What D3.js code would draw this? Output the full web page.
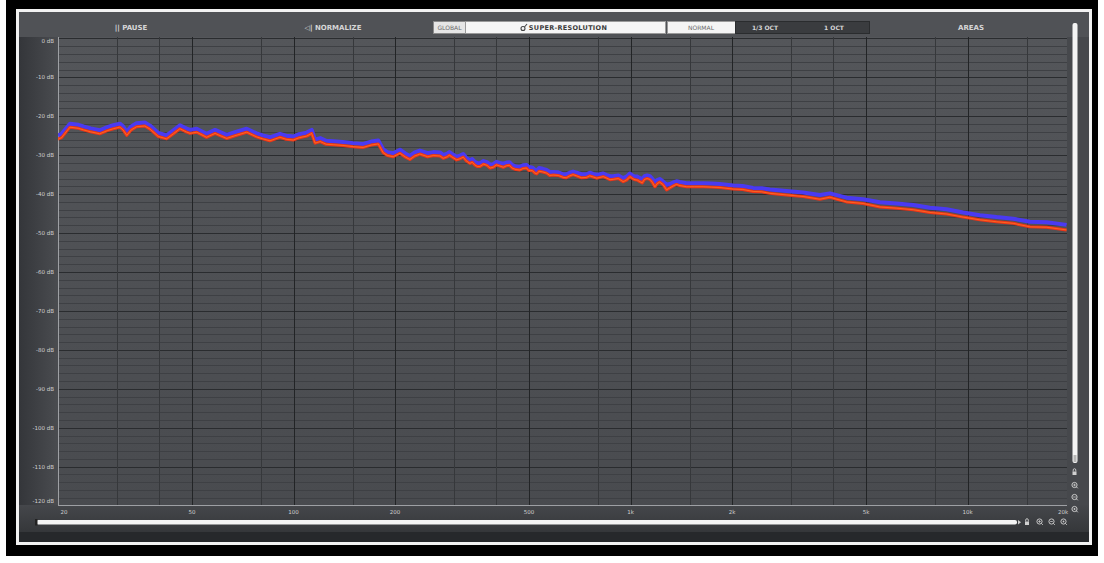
<!DOCTYPE html>
<html><head><meta charset="utf-8">
<script src="https://cdn.jsdelivr.net/npm/d3@7"></script>
<style>
html,body{margin:0;padding:0;background:#ffffff;}
svg{display:block;}
text{font-family:"DejaVu Sans",sans-serif;}
</style></head>
<body>
<svg id="chart" width="1104" height="563"></svg>
<script>
const freqs = [20,20.5,21.7,23,23.8,25,26.6,28,29.2,30.5,
31.2,32,33,34.2,36.2,37.5,39.7,42,44,46,
48,49.3,51.6,53.5,55.2,58.5,61,63.3,67,72.6,
77.7,81,85.1,91.1,95,99.8,104,109.4,113.2,115.8,
120,125,131.2,140,150.4,161,170,178.4,184.6,190,
197.6,206.9,215,221.4,229,237.1,250,260,271.9,278,
286,294.5,304.7,318.8,325,333.7,345,357.3,375,391.3,
410,428.8,445,469.5,491.5,505,520.3,535,563.5,590,
631.2,660,691.7,740.6,775,811,850,888,951,995.6,
1030,1066,1100,1141,1181,1220,1279,1338,1400,1467,
1550,1642,1740,1841,2016,2150,2311,2450,2591,2750,
2903,3252,3645,3903,4375,4900,5494,6157,6902,7734,
8667,9708,10880,12196,13659,15311,17160,19676];
const redDb = [-25.9,-25.5,-22.8,-23.1,-23.5,-24.0,-24.5,-23.7,-23.2,-22.8,
-23.5,-24.9,-23.5,-22.7,-22.5,-23.3,-25.2,-25.8,-24.5,-23.2,
-24.0,-24.4,-24.1,-24.8,-25.4,-24.4,-25.1,-25.7,-25.0,-24.1,
-25.3,-25.8,-26.3,-25.4,-25.9,-26.1,-25.5,-25.1,-24.4,-26.9,
-26.5,-27.2,-27.3,-27.5,-27.8,-28.0,-27.4,-27.1,-29.4,-30.1,
-30.4,-29.5,-30.5,-31.1,-30.2,-29.7,-30.4,-30.1,-30.2,-30.8,
-30.4,-30.4,-31.2,-30.5,-31.4,-32.1,-32.5,-32.9,-32.6,-33.1,
-32.8,-32.7,-33.3,-33.8,-33.3,-33.9,-34.6,-34.1,-34.6,-35.1,
-35.7,-35.3,-35.3,-35.7,-35.6,-35.7,-35.9,-36.2,-36.8,-35.5,
-36.3,-36.8,-36.2,-36.2,-38.1,-36.9,-38.9,-37.9,-37.8,-38.1,
-38.1,-38.1,-38.2,-38.3,-38.7,-38.8,-39.3,-39.4,-39.8,-40.0,
-40.2,-40.6,-41.3,-40.8,-42.0,-42.4,-43.3,-43.6,-44.0,-44.7,
-45.1,-45.9,-46.6,-47.1,-47.5,-48.4,-48.5,-49.2];
const blueDb = [-24.9,-24.5,-21.9,-22.2,-22.6,-23.1,-23.6,-22.8,-22.3,-21.9,
-22.6,-24.0,-22.6,-21.8,-21.6,-22.4,-24.3,-24.9,-23.6,-22.3,
-23.1,-23.5,-23.2,-23.9,-24.5,-23.5,-24.2,-24.8,-24.1,-23.2,
-24.4,-24.9,-25.4,-24.5,-25.0,-25.2,-24.6,-24.2,-23.5,-26.0,
-25.6,-26.3,-26.4,-26.6,-26.9,-27.1,-26.5,-26.2,-28.5,-29.2,
-29.5,-28.6,-29.6,-30.2,-29.3,-28.8,-29.5,-29.2,-29.3,-29.9,
-29.6,-29.6,-30.4,-29.7,-30.6,-31.3,-31.7,-32.1,-31.8,-32.3,
-32.0,-31.9,-32.5,-33.0,-32.5,-33.1,-33.8,-33.3,-33.8,-34.3,
-34.9,-34.5,-34.5,-34.9,-34.8,-34.9,-35.1,-35.4,-35.9,-34.7,
-35.5,-35.9,-35.4,-35.4,-36.9,-36.1,-37.6,-37.0,-36.9,-37.2,
-37.2,-37.2,-37.3,-37.4,-37.8,-37.9,-38.4,-38.5,-38.8,-39.0,
-39.2,-39.6,-40.2,-39.8,-40.9,-41.3,-42.1,-42.4,-42.8,-43.5,
-43.9,-44.7,-45.4,-45.9,-46.3,-47.1,-47.2,-47.9];
// extra fine-detail readings (super-resolution ripple, 290 Hz - 1.4 kHz)
const detailFreqs = [290,312,339,351,366,383,400,419,437,457,480,498,512,527,549,576,610,645,675,715,757,793,830,869,920,973,1013,1048,1083,1120,1161,1200,1250,1308,1369];
const detailRedDb = [-30.0,-30.9,-31.8,-32.9,-32.3,-33.3,-32.5,-33.1,-32.6,-33.7,-33.4,-33.9,-34.0,-34.8,-34.3,-35.2,-35.2,-35.8,-35.0,-35.8,-35.3,-35.9,-35.5,-36.3,-36.0,-36.4,-36.0,-36.4,-37.1,-36.0,-37.0,-37.3,-37.6,-38.4,-37.5];
const detailBlueDb = [-29.2,-30.1,-31.0,-32.0,-31.5,-32.4,-31.7,-32.2,-31.8,-32.9,-32.6,-33.0,-33.2,-33.9,-33.5,-34.3,-34.4,-34.9,-34.2,-34.9,-34.5,-35.0,-34.7,-35.4,-35.2,-35.5,-35.2,-35.5,-36.1,-35.2,-36.1,-36.4,-36.8,-37.4,-36.7];
const yTicks = [0,-10,-20,-30,-40,-50,-60,-70,-80,-90,-100,-110,-120];
const yTickLabels = ["0 dB","-10 dB","-20 dB","-30 dB","-40 dB","-50 dB","-60 dB","-70 dB","-80 dB","-90 dB","-100 dB","-110 dB","-120 dB"];
const xTicks = [20,50,100,200,500,1000,2000,5000,10000,20000];
const xTickLabels = ["20","50","100","200","500","1k","2k","5k","10k","20k"];
const xGridFreqs = [30,40,80,150,300,400,800,1500,3000,4000,8000,15000];
const toolbarLabels = ["|| PAUSE","◁| NORMALIZE","GLOBAL","SUPER-RESOLUTION","NORMAL","1/3 OCT","1 OCT","AREAS"];

const svg = d3.select("#chart");
const defs = svg.append("defs");
const P = {l:58, r:1067, t:37, b:505};

const x = d3.scaleLog().domain([20,20000]).range([58,1069]);
const y = d3.scaleLinear().domain([0,-120]).range([38.4,505.6]);

// gradients
const g1 = defs.append("linearGradient").attr("id","leftG").attr("x1",0).attr("x2",1).attr("y1",0).attr("y2",0);
g1.append("stop").attr("offset","0%").attr("stop-color","#34363a");
g1.append("stop").attr("offset","100%").attr("stop-color","#4a4c50");
const g2 = defs.append("linearGradient").attr("id","plotG").attr("x1",0).attr("x2",0).attr("y1",0).attr("y2",1);
g2.append("stop").attr("offset","0%").attr("stop-color","#54565a");
g2.append("stop").attr("offset","100%").attr("stop-color","#494b4f");
const g3 = defs.append("linearGradient").attr("id","botG").attr("x1",0).attr("x2",0).attr("y1",0).attr("y2",1);
g3.append("stop").attr("offset","0%").attr("stop-color","#45474b");
g3.append("stop").attr("offset","100%").attr("stop-color","#35373a");
defs.append("clipPath").attr("id","clipP").append("rect")
  .attr("x",P.l).attr("y",P.t).attr("width",P.r-P.l).attr("height",P.b-P.t);

// frame
svg.append("rect").attr("x",6).attr("y",0).attr("width",1092).attr("height",556).attr("fill","#000");
svg.append("rect").attr("x",16).attr("y",9).attr("width",1076).attr("height",536).attr("fill","#f2f2f2");
svg.append("rect").attr("x",19).attr("y",12).attr("width",1070).attr("height",530).attr("fill","#4c4e52");
svg.append("rect").attr("x",19).attr("y",12).attr("width",1070).attr("height",25).attr("fill","#505256");
svg.append("rect").attr("x",19).attr("y",37).attr("width",39).attr("height",470).attr("fill","url(#leftG)");
svg.append("rect").attr("x",19).attr("y",505).attr("width",1070).attr("height",27).attr("fill","url(#botG)");
svg.append("rect").attr("x",19).attr("y",532).attr("width",1070).attr("height",10).attr("fill","#26282b");
svg.append("rect").attr("x",1067).attr("y",37).attr("width",22).attr("height",468).attr("fill","#46484c");
svg.append("rect").attr("x",P.l).attr("y",P.t).attr("width",P.r-P.l).attr("height",P.b-P.t).attr("fill","url(#plotG)");

const grid = svg.append("g").attr("clip-path","url(#clipP)");
const minor = d3.range(0,-126,-2);
grid.selectAll("line.hm").data(minor).join("line")
  .attr("x1",P.l).attr("x2",P.r).attr("y1",d=>Math.round(y(d))+0.5).attr("y2",d=>Math.round(y(d))+0.5)
  .attr("stroke",d=> d%10===0 ? "#2a2c2f" : "#3e4044").attr("stroke-width",1);
grid.selectAll("line.vm").data(xGridFreqs).join("line")
  .attr("y1",P.t).attr("y2",P.b).attr("x1",d=>Math.round(x(d))+0.5).attr("x2",d=>Math.round(x(d))+0.5)
  .attr("stroke","#36383b").attr("stroke-width",1);
grid.selectAll("line.vM").data(xTicks.slice(1)).join("line")
  .attr("y1",P.t).attr("y2",P.b).attr("x1",d=>Math.round(x(d))+0.5).attr("x2",d=>Math.round(x(d))+0.5)
  .attr("stroke","#222426").attr("stroke-width",1);

svg.append("line").attr("x1",P.l+0.5).attr("x2",P.l+0.5).attr("y1",P.t).attr("y2",P.b).attr("stroke","#9ea0a4");
svg.append("line").attr("x1",P.l).attr("x2",P.r).attr("y1",P.b+0.5).attr("y2",P.b+0.5).attr("stroke","#9ea0a4");

svg.selectAll("text.yl").data(yTicks).join("text")
  .attr("x",54).attr("y",(d,i)=>{let v=y(d); if(i===0) v=Math.max(v,41.5); if(i===yTicks.length-1) v=Math.min(v,501.5); return v;})
  .attr("dy","0.35em").attr("text-anchor","end").attr("font-size",5.5).attr("fill","#d0d0d0")
  .text((d,i)=>yTickLabels[i]);
svg.selectAll("text.xl").data(xTicks).join("text")
  .attr("x",(d,i)=>{let v=x(d); if(i===0) v=64; if(i===xTicks.length-1) v=1063; return v;})
  .attr("y",512).attr("dy","0.35em").attr("text-anchor","middle").attr("font-size",5.5).attr("fill","#d0d0d0")
  .text((d,i)=>xTickLabels[i]);

// curves: merge main and detail readings, sorted by frequency
const line = d3.line().x(d=>x(d[0])).y(d=>y(d[1]));
const blue = freqs.map((f,i)=>[f,blueDb[i]]).concat(detailFreqs.map((f,i)=>[f,detailBlueDb[i]])).sort((a,b)=>a[0]-b[0]);
const red = freqs.map((f,i)=>[f,redDb[i]]).concat(detailFreqs.map((f,i)=>[f,detailRedDb[i]])).sort((a,b)=>a[0]-b[0]);
const curves = svg.append("g").attr("clip-path","url(#clipP)");
curves.append("path").datum(blue).attr("d",line).attr("fill","none").attr("stroke","#4a3af2").attr("stroke-width",4).attr("stroke-linejoin","round");
curves.append("path").datum(red).attr("d",line).attr("fill","none").attr("stroke","#ee3418").attr("stroke-width",3).attr("stroke-linejoin","round");
curves.append("path").datum(red).attr("d",line).attr("fill","none").attr("stroke","#ff8a28").attr("stroke-width",0.7).attr("stroke-opacity",0.85).attr("stroke-linejoin","round");

// toolbar
const tb = svg.append("g");
const tstyle = (s,size,w,c)=> s.attr("font-size",size).attr("font-weight",w).attr("fill",c).attr("dy","0.35em");
tstyle(tb.append("text").attr("x",131).attr("y",27.5).attr("text-anchor","middle").text(toolbarLabels[0]),7,"bold","#d6d6d6");
tstyle(tb.append("text").attr("x",333).attr("y",27.5).attr("text-anchor","middle").text(toolbarLabels[1]),7,"bold","#d6d6d6");
tb.append("rect").attr("x",433.5).attr("y",21.5).attr("width",32).attr("height",12).attr("fill","#e6e6e6").attr("stroke","#8a8a8a");
tstyle(tb.append("text").attr("x",449.5).attr("y",27.5).attr("text-anchor","middle").text(toolbarLabels[2]),6,"normal","#6a6a6a");
tb.append("rect").attr("x",465.5).attr("y",21.5).attr("width",200).attr("height",12).attr("fill","#f6f6f6").attr("stroke","#9a9a9a");
tb.append("circle").attr("cx",523).attr("cy",28.5).attr("r",2).attr("fill","none").attr("stroke","#444").attr("stroke-width",1.1);
tb.append("line").attr("x1",524.5).attr("y1",27).attr("x2",527).attr("y2",24).attr("stroke","#444").attr("stroke-width",1.1);
tstyle(tb.append("text").attr("x",568).attr("y",27.5).attr("text-anchor","middle").attr("letter-spacing",0.3).text(toolbarLabels[3]),6.5,"bold","#3c3c3c");
tb.append("rect").attr("x",667.5).attr("y",21.5).attr("width",68).attr("height",12).attr("fill","#f4f4f4").attr("stroke","#9a9a9a");
tstyle(tb.append("text").attr("x",701).attr("y",27.5).attr("text-anchor","middle").text(toolbarLabels[4]),6,"normal","#6a6a6a");
tb.append("rect").attr("x",735.5).attr("y",21.5).attr("width",134).attr("height",12).attr("fill","#3a3c3f").attr("stroke","#2a2c2e");
tstyle(tb.append("text").attr("x",765).attr("y",27.5).attr("text-anchor","middle").text(toolbarLabels[5]),6,"bold","#d6d6d6");
tstyle(tb.append("text").attr("x",834).attr("y",27.5).attr("text-anchor","middle").text(toolbarLabels[6]),6,"bold","#d6d6d6");
tstyle(tb.append("text").attr("x",971).attr("y",27.5).attr("text-anchor","middle").text(toolbarLabels[7]),7,"bold","#d6d6d6");

// right scrollbar
svg.append("rect").attr("x",1072.5).attr("y",23).attr("width",5).attr("height",440).attr("rx",2).attr("fill","#f4f4f4");
svg.append("rect").attr("x",1073.5).attr("y",455).attr("width",3).attr("height",7).attr("fill","#b8b8b8");
// bottom scrollbar
svg.append("rect").attr("x",36).attr("y",520).attr("width",981).attr("height",4.5).attr("rx",2).attr("fill","#f4f4f4");
svg.append("rect").attr("x",35).attr("y",519).attr("width",2.5).attr("height",6.5).attr("fill","#222");
svg.append("path").attr("d","M1018,520 L1021,522.3 L1018,524.5 Z").attr("fill","#cfcfcf");

function lock(cx,cy){
  svg.append("rect").attr("x",cx-2).attr("y",cy-0.5).attr("width",4).attr("height",3.5).attr("fill","#d0d0d0");
  svg.append("path").attr("d",`M${cx-1.3},${cy-0.5} v-1.5 a1.3,1.3 0 0 1 2.6,0 v1.5`).attr("fill","none").attr("stroke","#d0d0d0").attr("stroke-width",0.9);
}
function mag(cx,cy,kind){
  svg.append("circle").attr("cx",cx).attr("cy",cy).attr("r",2.6).attr("fill","none").attr("stroke","#c8c8c8").attr("stroke-width",1);
  svg.append("line").attr("x1",cx+1.8).attr("y1",cy+1.8).attr("x2",cx+3.3).attr("y2",cy+3.3).attr("stroke","#c8c8c8").attr("stroke-width",1);
  if(kind!=="r"){ svg.append("line").attr("x1",cx-1.3).attr("x2",cx+1.3).attr("y1",cy).attr("y2",cy).attr("stroke","#c8c8c8").attr("stroke-width",0.8); }
  if(kind==="+"){ svg.append("line").attr("y1",cy-1.3).attr("y2",cy+1.3).attr("x1",cx).attr("x2",cx).attr("stroke","#c8c8c8").attr("stroke-width",0.8); }
  if(kind==="r"){ svg.append("circle").attr("cx",cx).attr("cy",cy).attr("r",0.9).attr("fill","#c8c8c8"); }
}
lock(1074.5,472); mag(1074.5,485,"+"); mag(1074.5,497,"-"); mag(1074.5,509,"r");
lock(1027,522); mag(1039.5,521.5,"+"); mag(1051.5,521.5,"-"); mag(1063.5,521.5,"r");
</script>
</body></html>
